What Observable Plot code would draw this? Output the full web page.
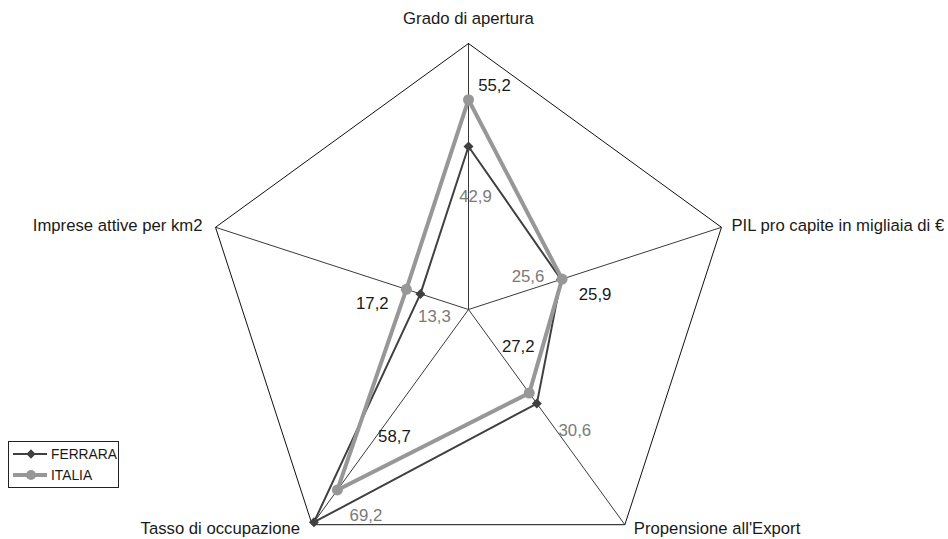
<!DOCTYPE html>
<html>
<head>
<meta charset="utf-8">
<script src="https://cdn.jsdelivr.net/npm/d3@7"></script>
<script src="https://cdn.jsdelivr.net/npm/@observablehq/plot@0.6"></script>
<style>
  html, body { margin: 0; padding: 0; background: #fff; }
  #wrap { position: relative; width: 948px; height: 539px; }
  #wrap svg { display: block; }
  #legend { position: absolute; left: 8px; top: 441px; }
</style>
</head>
<body>
<div id="wrap"></div>
<script>
// ---- data ----
const axes = ["Grado di apertura", "PIL pro capite in migliaia di €", "Propensione all'Export", "Tasso di occupazione", "Imprese attive per km2"];
const ferrara = [42.9, 25.6, 30.6, 69.2, 13.3];
const italia = [55.2, 25.9, 27.2, 58.7, 17.2];
const seriesNames = ["FERRARA", "ITALIA"];
const maxValue = 70;

// ---- layout (pixels) ----
const W = 948, H = 539;
const cx = 468, cy = 309, R = 266;
const k = maxValue / R; // data units per pixel
const xDomain = [-cx * k, (W - cx) * k];
const yDomain = [-(H - cy) * k, cy * k];

const n = axes.length;
const angle = i => (i * 2 * Math.PI) / n;
const polar = (v, i) => ({x: v * Math.sin(angle(i)), y: v * Math.cos(angle(i))});

const outer = axes.map((a, i) => ({...polar(maxValue, i), axis: a, i}));
const outerClosed = [...outer, outer[0]];
const mk = vals => vals.map((v, i) => ({...polar(v, i), v, i}));
const fPts = mk(ferrara), iPts = mk(italia);

const fmt = v => v.toFixed(1).replace(".", ",");
const BLACK = "#1a1a1a", GRAYTXT = "#7a7a7a";
const FCOL = "#404040", ICOL = "#979797";

// label offsets (px): italia labels dark, ferrara labels gray
const iOff = [[26, -14], [33, 16], [-11, -47], [57, -53], [-34, 14]];
const fOff = [[7, 50], [-33, -3], [38, 27], [52, -7], [14, 23]];
const axisOff = [[0, -25, "middle"], [10, -2, "start"], [9, 4, "start"], [-12, 4, "end"], [-13, -2, "end"]];

const valueLabels = [];
iPts.forEach((p, i) => valueLabels.push(Plot.text([p], {x: "x", y: "y", text: d => fmt(d.v), dx: iOff[i][0], dy: iOff[i][1], fill: BLACK, fontSize: 16.8})));
fPts.forEach((p, i) => valueLabels.push(Plot.text([p], {x: "x", y: "y", text: d => fmt(d.v), dx: fOff[i][0], dy: fOff[i][1], fill: GRAYTXT, fontSize: 16.8})));
const axisLabels = outer.map((p, i) => Plot.text([p], {x: "x", y: "y", text: "axis", dx: axisOff[i][0], dy: axisOff[i][1], textAnchor: axisOff[i][2], fill: BLACK, fontSize: 16.7}));

const chart = Plot.plot({
  width: W, height: H, margin: 0,
  x: {domain: xDomain, axis: null},
  y: {domain: yDomain, axis: null},
  style: {fontFamily: "'Liberation Sans', Arial, sans-serif", background: "white"},
  marks: [
    Plot.link(outer, {x1: 0, y1: 0, x2: "x", y2: "y", stroke: "#3a3a3a", strokeWidth: 1}),
    Plot.line(outerClosed, {x: "x", y: "y", stroke: "#111", strokeWidth: 1}),
    Plot.line([...fPts, fPts[0]], {x: "x", y: "y", stroke: FCOL, strokeWidth: 2}),
    Plot.dot(fPts, {x: "x", y: "y", symbol: "diamond2", r: 4.5, fill: FCOL, stroke: "none"}),
    Plot.line([...iPts, iPts[0]], {x: "x", y: "y", stroke: ICOL, strokeWidth: 4}),
    Plot.dot(iPts, {x: "x", y: "y", r: 5.5, fill: ICOL, stroke: "none"}),
    ...valueLabels,
    ...axisLabels
  ]
});
const wrap = document.getElementById("wrap");
wrap.appendChild(chart);

// ---- legend ----
const lg = d3.select(wrap).append("svg").attr("id", "legend").attr("width", 111).attr("height", 47)
  .style("font-family", "'Liberation Sans', Arial, sans-serif");
lg.append("rect").attr("x", 0.5).attr("y", 0.5).attr("width", 110).attr("height", 46).attr("fill", "white").attr("stroke", "#222");
const legRows = [{name: seriesNames[0], col: FCOL, w: 2, sym: d3.symbolDiamond2, size: 55}, {name: seriesNames[1], col: ICOL, w: 4, sym: d3.symbolCircle, size: 80}];
legRows.forEach((r, j) => {
  const y = 13 + j * 21;
  lg.append("line").attr("x1", 5).attr("x2", 39).attr("y1", y).attr("y2", y).attr("stroke", r.col).attr("stroke-width", r.w);
  lg.append("path").attr("d", d3.symbol(r.sym, r.size)()).attr("transform", `translate(23,${y})`).attr("fill", r.col);
  lg.append("text").attr("x", 43).attr("y", y).attr("dy", "0.35em").attr("font-size", 13.8).attr("fill", BLACK).text(r.name);
});
</script>
</body>
</html>
